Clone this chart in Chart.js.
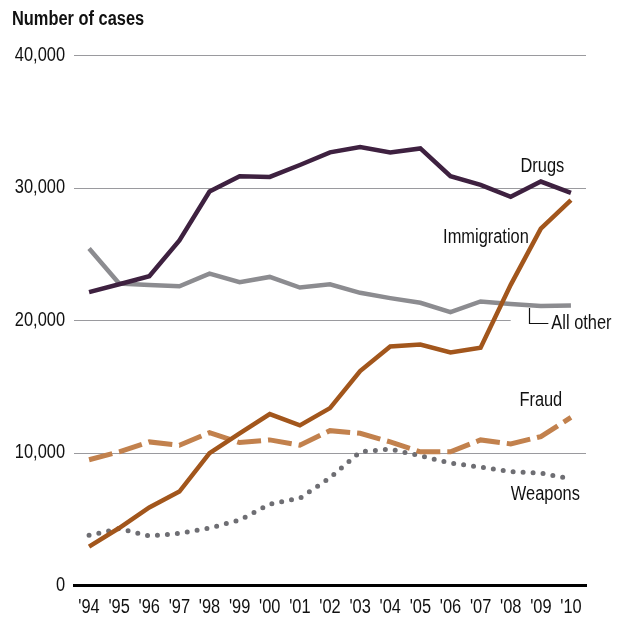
<!DOCTYPE html>
<html>
<head>
<meta charset="utf-8">
<script src="https://cdn.jsdelivr.net/npm/chart.js@4/dist/chart.umd.min.js"></script>
<style>
  html, body { margin: 0; padding: 0; background: #fff; }
  #wrap { width: 625px; height: 617px; position: relative; }
</style>
</head>
<body>
<div id="wrap"><canvas id="casesChart"></canvas></div>
<script>
// 数据
const years = ["'94", "'95", "'96", "'97", "'98", "'99", "'00", "'01", "'02", "'03", "'04", "'05", "'06", "'07", "'08", "'09", "'10"];
const drugs = [22100, 22700, 23300, 26000, 29700, 30850, 30800, 31700, 32650, 33050, 32650, 32950, 30850, 30200, 29300, 30450, 29600];
const immigration = [2900, 4300, 5850, 7050, 9950, 11450, 12900, 12050, 13350, 16150, 18000, 18150, 17550, 17900, 22650, 26900, 29050];
const allOther = [25400, 22750, 22650, 22550, 23500, 22850, 23250, 22450, 22700, 22050, 21650, 21300, 20600, 21400, 21200, 21050, 21100];
const fraud = [9450, 10050, 10800, 10550, 11500, 10750, 10950, 10550, 11650, 11450, 10800, 10050, 10050, 10950, 10650, 11200, 12650];
const weapons = [3750, 4250, 3700, 3900, 4300, 4900, 6100, 6550, 8100, 10050, 10250, 9750, 9200, 8900, 8550, 8450, 8000];
const yTicks = [0, 10000, 20000, 30000, 40000];
const yTickLabels = ['0', '10,000', '20,000', '30,000', '40,000'];

const FONT = '"Liberation Sans", Arial, sans-serif';
const SQUEEZE = 0.82; // 模拟窄体字

// 横向压缩绘制文字
function squeezedText(ctx, text, x, y, align) {
    ctx.save();
    ctx.translate(x, y);
    ctx.scale(SQUEEZE, 1);
    ctx.textAlign = align;
    ctx.fillText(text, 0, 0);
    ctx.restore();
}

// 标注与网格插件
const annotatePlugin = {
    id: 'annotate',
    beforeDatasetsDraw(chart) {
        const { ctx, chartArea, scales: { x, y } } = chart;
        ctx.save();
        ctx.strokeStyle = '#9a9a9e';
        ctx.lineWidth = 1;
        yTicks.forEach(v => {
            if (v === 0) return;
            const py = Math.round(y.getPixelForValue(v)) + 0.5;
            // 20,000 的网格线在 "All other" 标签前截断
            const right = v === 20000 ? x.getPixelForValue(14) : chartArea.right;
            ctx.beginPath();
            ctx.moveTo(chartArea.left, py);
            ctx.lineTo(right, py);
            ctx.stroke();
        });
        ctx.restore();
    },
    afterDraw(chart) {
        const { ctx, chartArea, scales: { x, y } } = chart;
        ctx.save();
        ctx.fillStyle = '#111';
        ctx.textBaseline = 'middle';

        // 标题
        ctx.font = 'bold 20px ' + FONT;
        squeezedText(ctx, 'Number of cases', 12, 19, 'left');

        // 坐标轴刻度
        ctx.font = '20px ' + FONT;
        yTicks.forEach((v, i) => {
            squeezedText(ctx, yTickLabels[i], chartArea.left - 9, y.getPixelForValue(v), 'right');
        });
        years.forEach((lab, i) => {
            squeezedText(ctx, lab, x.getPixelForValue(i), chartArea.bottom + 22, 'center');
        });

        // 系列标注
        squeezedText(ctx, 'Drugs', x.getPixelForValue(15.05), y.getPixelForValue(31600), 'center');
        squeezedText(ctx, 'Fraud', x.getPixelForValue(15), y.getPixelForValue(13950), 'center');
        squeezedText(ctx, 'Weapons', x.getPixelForValue(15.15), y.getPixelForValue(6800), 'center');
        squeezedText(ctx, 'Immigration', x.getPixelForValue(14.6), y.getPixelForValue(26200), 'right');
        squeezedText(ctx, 'All other', x.getPixelForValue(15.35), y.getPixelForValue(19750), 'left');

        // "All other" 引线
        const lx = Math.round(x.getPixelForValue(14.6)) + 0.5;
        const ly = Math.round(y.getPixelForValue(19750)) + 0.5;
        ctx.strokeStyle = '#111';
        ctx.lineWidth = 1.2;
        ctx.beginPath();
        ctx.moveTo(lx, y.getPixelForValue(20900));
        ctx.lineTo(lx, ly);
        ctx.lineTo(x.getPixelForValue(15.25), ly);
        ctx.stroke();
        ctx.restore();
    }
};

function series(data, color, extra) {
    return Object.assign({
        data: data,
        borderColor: color,
        backgroundColor: color,
        borderWidth: 4.5,
        pointRadius: 0,
        tension: 0,
        fill: false,
        borderJoinStyle: 'miter'
    }, extra || {});
}

new Chart(document.getElementById('casesChart'), {
    type: 'line',
    data: {
        labels: years,
        datasets: [
            series(immigration, '#a2561c'),
            series(drugs, '#3e2140'),
            series(allOther, '#8c8c90'),
            series(fraud, '#c2814d', { borderDash: [24, 7], borderWidth: 5 }),
            series(weapons, '#6e6e73', { borderDash: [0, 10], borderCapStyle: 'round', borderWidth: 5 })
        ]
    },
    options: {
        responsive: true,
        maintainAspectRatio: false,
        animation: false,
        layout: { padding: { top: 55, right: 39, left: 0, bottom: 0 } },
        plugins: {
            legend: { display: false },
            tooltip: { enabled: false }
        },
        scales: {
            x: {
                offset: true,
                grid: { display: false, drawTicks: false },
                border: { display: true, color: '#000', width: 3 },
                ticks: { color: 'rgba(0,0,0,0)', maxRotation: 0, autoSkip: false },
                afterFit(scale) { scale.height = 32; }
            },
            y: {
                min: 0,
                max: 40000,
                grid: { display: false, drawTicks: false },
                border: { display: false },
                ticks: { stepSize: 10000, color: 'rgba(0,0,0,0)' },
                afterFit(scale) { scale.width = 74; }
            }
        }
    },
    plugins: [annotatePlugin]
});
</script>
</body>
</html>
